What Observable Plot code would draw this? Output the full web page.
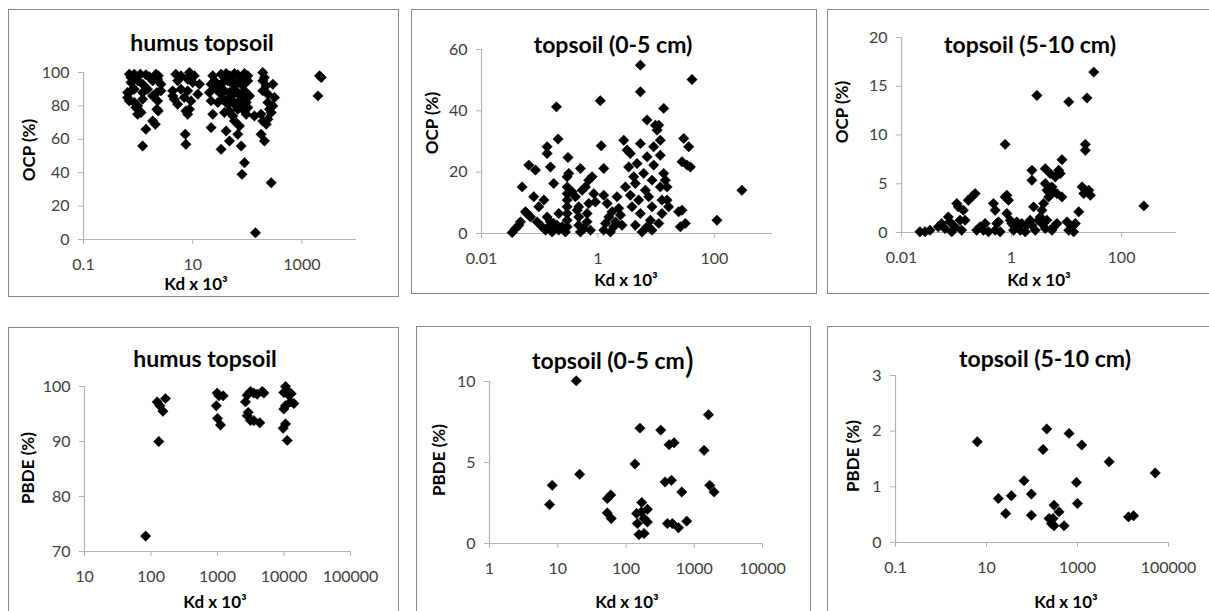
<!DOCTYPE html>
<html><head><meta charset="utf-8">
<script src="https://cdn.jsdelivr.net/npm/d3@7"></script>
<script src="https://cdn.jsdelivr.net/npm/@observablehq/plot@0.6"></script>
<style>
body{margin:0;background:#fff;}
#root{position:relative;width:1209px;height:611px;overflow:hidden;font-family:Lato,"Open Sans",sans-serif;background:#fff;}
.panel{position:absolute;border:1.5px solid #8a8a8a;box-sizing:border-box;}
.title{position:absolute;font-weight:bold;font-size:23px;transform:translate(-50%,-50%);white-space:nowrap;color:#000;line-height:1;}
.xl{position:absolute;font-weight:bold;font-size:17px;transform:translate(-50%,-50%);white-space:nowrap;color:#000;line-height:1;}
.yl{position:absolute;font-weight:bold;font-size:17px;transform:translate(-50%,-50%) rotate(-90deg);white-space:nowrap;color:#000;line-height:1;}
.big{font-size:34px;font-weight:normal;vertical-align:-4px;line-height:0;}
#root svg{position:absolute;}
</style></head>
<body><div id="root"></div>
<script>
// ---------- data ----------
const titles = ["humus topsoil","topsoil (0-5 cm)","topsoil (5-10 cm)","humus topsoil","topsoil (0-5 cm","topsoil (5-10 cm)"];
const yLabels = ["OCP (%)","OCP (%)","OCP (%)","PBDE (%)","PBDE (%)","PBDE (%)"];
const xLabel = "Kd x 10³";

const p1Kd = [0.69,0.85,1.10,1.39,2.12,2.34,0.74,1.60,0.74,0.98,1.21,1.85,2.62,2.28,0.64,0.74,0.85,1.21,1.49,2.62,2.21,0.64,0.69,1.21,1.85,2.28,0.85,0.98,0.91,1.05,1.13,0.98,2.21,2.34,1.85,2.07,1.39,1.21,
 4.9,9.3,10.7,8.7,6.1,5.3,8.1,13.3,10,4.3,6.1,8.1,12.4,4.6,5.3,7.0,9.3,4.3,7.5,8.7,8.1,7.3,7.5,
 23.3,33.1,40.9,47.1,58.2,67,88.7,102,192,206,
 21.7,25,28.8,35.5,43.9,54.2,67,82.7,102,192,222,294,
 20.2,26.8,33.1,38.1,47.1,58.2,71.8,88.7,110,192,238,315,
 21.7,28.8,35.5,43.9,54.2,67,77.1,95.2,102,238,294,
 23.3,38.1,47.1,54.2,67,95.2,135,179,255,274,
 21.7,58.2,71.8,192,238,222,
 40.9,67,47.1,77.1,179,206,
 33.1,88.7,80,274,141,
 38.1,50.5,77.1,30.8,62.4,82.7,40.9,50.5,62.4,88.7,
 1968,2265,2100];
const p1Ocp = [99,99,99,98.6,99,98,97,97.4,94,95,93,95,93,96,88,89,90,88,90,89,88,85,83,84,86,83,82,80,79,77,76,75,78,77,71,69,66,56,
 99,99,98,100,98,95,96,93,94,89,90,89,87,84,81,85,83,86,77,78,75,63,57,
 98,99,99.4,98,99.4,98.6,99.4,98,100,97,
 93,95,92,94,95,93,94,92,95,95,92,93,
 88,90,87,89,88,90,87,89,86,89,87,85,
 83,82,84,81,83,82,80,82,79,82,80,
 75,76,77,74,78,75,74,75,78,76,
 67,71,68,71,72,69,
 65,63,59,56,63,59,
 54,46,39,34,4,
 97,96,96,90,88,85,83,86,80,77,
 86,97,98];

const p2Kd = [0.0336,0.0384,0.0438,0.0468,0.0569,0.0499,0.065,0.0845,0.061,0.0694,0.079,0.0964,0.090,0.110,0.118,0.126,0.134,0.143,0.153,0.163,0.174,0.186,0.199,0.213,
 0.134,0.134,0.153,0.174,0.194,0.207,0.213,0.243,0.277,0.296,0.296,0.296,0.296,0.296,0.296,0.296,0.296,0.306,0.316,0.360,0.411,0.469,0.44,0.469,0.469,0.501,0.501,0.535,0.610,0.652,0.696,0.794,0.85,0.696,0.652,0.57,0.745,0.906,
 1.10,1.14,1.26,1.26,1.44,1.54,1.35,1.26,1.64,1.75,1.87,2.0,2.13,2.28,2.44,2.60,2.78,2.97,3.17,3.38,3.61,3.61,3.86,4.12,4.40,4.40,4.70,5.02,5.37,5.37,5.37,5.37,5.73,6.12,6.54,6.98,6.98,7.46,7.46,7.97,8.51,8.51,9.09,9.09,9.71,10.4,11.1,11.8,11.8,11.8,12.6,12.6,13.5,13.5,14.4,15.4,15.4,16.4,11.1,6.98,8.51,
 24.4,26.1,27.9,31.8,29.8,36.3,27.9,34,38.8,41.4,111,298];
const p2Ocp = [0.3,1.6,2.7,3.8,7.1,15.2,22.3,20.7,6.5,5.4,12,8.7,3.8,2.2,10.9,1.1,5.4,2.2,3.8,0.5,3.3,1.6,2.7,1.1,
 28.3,26.1,21.7,16.3,41.3,30.8,6.5,2.2,0.5,18.5,15.2,13,10.9,8.7,6.5,4.3,2.2,24.8,19.6,13.6,12,8.7,7.6,5.4,2.7,21.2,0.5,14.1,15.2,3.8,17.4,18.5,13,9.8,6.5,1.6,1.1,10.3,
 43.3,28.6,21.2,12.5,9.8,5.4,3.3,1.1,0.5,7.1,2.2,3.8,12,8.2,6,2.7,30.4,15.2,27.2,21.7,26.1,12.5,8.7,18.5,16.3,2.7,22.8,10.9,29.3,46.2,54.9,6.5,0.5,19.6,14.1,37,25,12,2.2,4.3,17.4,8.7,28.3,22.3,35.3,33.7,35.3,30.4,25.5,15.2,6.5,10.9,40.8,19.6,17.4,15.2,10.9,8.7,3.3,2.2,1.1,
 7.1,2.2,7.6,3.3,31,28.3,23.4,22.3,21.7,50.2,4.3,14.1];

const p3Kd = [0.0216,0.0267,0.0329,0.0466,0.0536,0.0617,0.0709,0.076,0.0816,0.0939,0.101,0.108,0.116,0.124,0.133,0.143,0.164,0.189,0.218,0.233,0.268,0.331,0.31,0.381,0.470,0.504,0.504,0.54,0.580,0.622,0.767,0.822,0.882,0.822,0.95,1.01,1.09,0.767,
 1.17,1.25,1.44,1.54,1.78,1.91,2.19,2.35,2.35,2.35,2.52,2.70,2.90,3.11,3.33,3.57,3.83,4.11,4.11,4.41,4.73,5.07,5.44,5.84,6.26,6.71,7.20,7.72,8.28,8.28,6.71,5.84,5.44,4.11,4.41,3.57,11.0,10.2,11.0,12.6,13.5,14.5,16.7,
 19.2,20.6,22.0,22.0,23.6,25.4,27.2,31.3,255];
const p3Ocp = [0.07,0.07,0.24,0.58,0.92,0.41,1.60,1.09,0.07,0.58,2.97,2.63,1.26,0.24,2.29,1.26,3.31,3.65,3.99,0.24,0.58,0.92,0.24,0.07,2.97,2.29,0.24,0.92,1.09,0.07,3.65,3.82,3.31,1.95,1.26,0.92,0.24,9.04,
 0.58,1.09,0.24,0.92,0.07,0.75,1.26,6.38,5.36,0.75,2.63,0.24,14.06,1.26,1.60,2.29,2.97,6.55,5.02,4.33,3.65,6.04,4.68,4.16,5.70,3.99,6.38,6.04,7.47,3.65,0.92,0.58,0.24,0.41,1.26,0.92,13.4,1.09,0.24,0.58,0.07,0.92,2.12,
 4.68,3.99,9.04,8.43,13.8,4.33,3.82,16.45,2.73];

const p4Kd = [83,124,136,151,165,131,988,1050,1217,960,1000,1109,2636,2793,3134,3516,3951,4695,4978,2793,3134,3516,4325,2900,10540,11170,9936,11840,12830,12540,14070,9936,10540,10540,9704,11170];
const p4Pbde = [72.8,97.2,96.5,95.5,97.8,90.0,98.8,98.3,98.3,96.5,94.2,93.0,97.2,98.4,99.1,98.8,98.6,99.1,98.8,94.7,93.8,93.8,93.4,95.3,100,99.3,98.9,98.4,98.7,97.2,96.9,95.9,96.5,93.2,92.4,90.2];

const p5Kd = [7.59,8.30,18.7,20.9,53.2,59.6,53.2,60.9,135,160,143,147,155,184,170,184,206,206,168,323,373,428,463,506,404,478,586,656,776,1393,1614,1687,1953];
const p5Pbde = [2.40,3.59,10.04,4.27,2.77,3.0,1.89,1.54,4.91,7.12,1.85,1.23,0.55,0.62,2.53,1.54,2.11,1.33,1.95,7.0,3.80,6.10,3.90,6.22,1.23,1.23,0.97,3.18,1.38,5.75,7.95,3.59,3.18];

const p6Kd = [6.27,18.2,26.4,35.2,66.8,96.9,96.9,175,211,237,267,305,290,393,507,305,653,948,997,1242,4966,13230,17030,51050];
const p6Pbde = [1.81,0.79,0.52,0.84,1.11,0.87,0.49,1.67,2.04,0.43,0.34,0.67,0.43,0.55,0.30,0.30,1.96,1.08,0.70,1.75,1.45,0.46,0.48,1.25];

const xTicks = [[0.1,10,1000],[0.01,1,100],[0.01,1,100],[10,100,1000,10000,100000],[1,10,100,1000,10000],[0.1,10,1000,100000]];
const xDomains = [[0.1,10000],[0.01,1000],[0.01,1000],[10,100000],[1,10000],[0.1,100000]];
const yTicks = [[0,20,40,60,80,100],[0,20,40,60],[0,5,10,15,20],[70,80,90,100],[0,5,10],[0,1,2,3]];

// ---------- layout ----------
const layout = [
 {box:[8,9,399,297],  plot:[83,356,72,239],   title:[202,42], xl:[196,283], yl:[28,150]},
 {box:[411,9,817,294],plot:[481,772,49,233],  title:[613,44], xl:[626,279], yl:[431,123]},
 {box:[827,9,1215,294],plot:[901,1176,37,232],title:[1030,44],xl:[1039,279],yl:[841,112]},
 {box:[8,327,399,625],plot:[84,350,386,551],  title:[205,358],xl:[215,601], yl:[27,468]},
 {box:[416,326,811,625],plot:[489,762,381,543],title:[613,360],xl:[627,601],yl:[438,460]},
 {box:[827,326,1215,625],plot:[895,1168,375,542],title:[1045,358],xl:[1066,601],yl:[852,456]}
];
const series = [[p1Kd,p1Ocp],[p2Kd,p2Ocp],[p3Kd,p3Ocp],[p4Kd,p4Pbde],[p5Kd,p5Pbde],[p6Kd,p6Pbde]];

const root = document.getElementById("root");
function add(cls, x, y, html){
  const d = document.createElement("div");
  d.className = cls; d.style.left = x+"px"; d.style.top = y+"px"; d.innerHTML = html;
  root.appendChild(d); return d;
}

layout.forEach((L,i)=>{
  const [bl,bt,br,bb] = L.box;
  const b = document.createElement("div");
  b.className = "panel";
  Object.assign(b.style,{left:bl+"px",top:bt+"px",width:(br-bl)+"px",height:(bb-bt)+"px"});
  root.appendChild(b);

  const [x0,x1,yt,yb] = L.plot;
  const m = {top:12,right:40,bottom:40,left:50};
  const [kd,val] = series[i];
  const data = kd.map((k,j)=>({k, v:val[j]}));
  const yd = [yTicks[i][0], yTicks[i][yTicks[i].length-1]];
  const svg = Plot.plot({
    width: (x1-x0)+m.left+m.right,
    height: (yb-yt)+m.top+m.bottom,
    marginTop:m.top, marginRight:m.right, marginBottom:m.bottom, marginLeft:m.left,
    style:{background:"transparent", overflow:"visible", fontFamily:"Lato, 'Open Sans', sans-serif"},
    x:{type:"log", domain:xDomains[i]},
    y:{domain:yd},
    marks:[
      Plot.ruleY([yd[0]], {stroke:"#b3b3b3", strokeWidth:1.2}),
      Plot.ruleX([xDomains[i][0]], {stroke:"#b3b3b3", strokeWidth:1.2}),
      Plot.axisX({ticks:xTicks[i], tickFormat:d=>String(d), tickSize:5, tickPadding:14, stroke:"#b3b3b3", fill:"#404040", fontSize:16, label:null}),
      Plot.axisY({ticks:yTicks[i], tickFormat:d=>String(d), tickSize:5, tickPadding:9, stroke:"#b3b3b3", fill:"#404040", fontSize:16, label:null}),
      Plot.dot(data, {x:"k", y:"v", symbol:"diamond2", r:4.7, fill:"#000", stroke:"#000", strokeWidth:0.5})
    ]
  });
  svg.style.left = (x0-m.left)+"px";
  svg.style.top = (yt-m.top)+"px";
  root.appendChild(svg);

  const t = titles[i] + (i===4 ? '<span class="big">)</span>' : '');
  add("title", L.title[0], L.title[1], t);
  add("xl", L.xl[0], L.xl[1], xLabel);
  add("yl", L.yl[0], L.yl[1], yLabels[i]);
});
</script></body></html>
